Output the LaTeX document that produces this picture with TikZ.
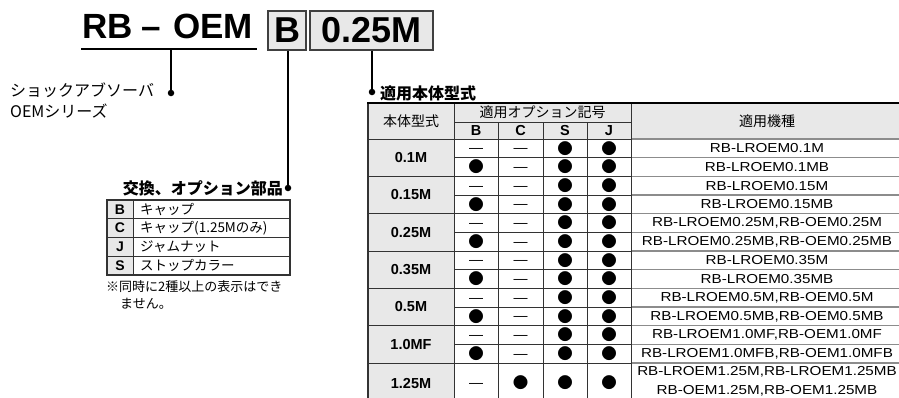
\documentclass[tikz,border=0pt]{standalone}
\usepackage{fontspec}
\setmainfont{Liberation Sans}
\newfontfamily\jp{Noto Sans CJK JP}
\newfontfamily\mdl[FakeStretch=1.17]{Liberation Sans}
\newcommand\MyGrp[4]{%
 \pgfmathsetmacro\ya{139+18.6667*(2*#1+0.5)}%
 \pgfmathsetmacro\yb{139+18.6667*(2*#1+1.5)}%
 \pgfmathsetmacro\yc{139+18.6667*(2*#1+1)}%
 \node[spec] (s#1) at (411,\yc) {#2};
 \node[dsh] (s#1ab) at (476,\ya+2.5) {—};
 \node[dsh] (s#1ac) at (520.5,\ya+2.5) {—};
 \node[sym] (s#1as) at (565,\ya) {●};
 \node[sym] (s#1aj) at (609,\ya) {●};
 \node[model] (s#1am) at (767,\ya) {#3};
 \node[sym] (s#1bb) at (476,\yb) {●};
 \node[dsh] (s#1bc) at (520.5,\yb+2.5) {—};
 \node[sym] (s#1bs) at (565,\yb) {●};
 \node[sym] (s#1bj) at (609,\yb) {●};
 \node[model] (s#1bm) at (767,\yb) {#4};
}
\begin{document}
\begin{tikzpicture}[x=1pt,y=-1pt,
  every node/.style={inner sep=0pt},
  sym/.style={font=\jp\fontsize{15.5}{15.5}\selectfont},
  dsh/.style={font=\fontsize{14}{14}\selectfont},
  spec/.style={font=\bfseries\fontsize{14.5}{14.5}\selectfont},
  model/.style={font=\mdl\fontsize{13}{13}\selectfont},
  hd/.style={font=\jp\fontsize{14}{14}\selectfont},
  hdb/.style={font=\bfseries\fontsize{14.5}{14.5}\selectfont},
  lbl/.style={font=\jp\fontsize{16}{16}\selectfont},
  lblb/.style={font=\jp\bfseries\fontsize{16}{16}\selectfont},
  lg/.style={font=\jp\fontsize{13.5}{13.5}\selectfont},
  lgb/.style={font=\bfseries\fontsize{14}{14}\selectfont},
  note/.style={font=\jp\fontsize{13}{13}\selectfont},
  rul/.style={draw=black!80, line width=1pt},
  grul/.style={draw=black!45, line width=1.1pt},
  toprul/.style={draw=black, line width=1.8pt},
  cellfill/.style={fill=black!9},
  codebox/.style={draw=black!75, line width=1.3pt, fill=black!9, minimum height=39pt, inner sep=0pt, font=\bfseries\fontsize{36}{36}\selectfont},
  conn/.style={draw=black, line width=1.5pt},
  dotc/.style={circle, fill=black, minimum size=6.5pt, inner sep=0pt}]
\fill[white] (0,0) rectangle (899,397);
\useasboundingbox (0,0) rectangle (899,397);
\clip (0,0) rectangle (899,397);

% ---- title ----
\node[anchor=base west, font=\bfseries\fontsize{35}{35}\selectfont] (rb) at (82,38) {RB\kern 9pt–\kern 12pt OEM};
\coordinate (ulw) at (81,49);
\coordinate (ule) at (257,49);
\coordinate (ulc) at (171,49);
\draw[line width=1.5pt] (ulw) -- (ule);
\node[codebox, minimum width=38pt] (bB) at (287,30.5) {B};
\node[codebox, minimum width=123pt] (b025) at (371.5,30.5) {0.25M};

% ---- dots and connectors ----
\node[dotc] (d1) at (171,93) {};
\node[dotc] (d2) at (288,188) {};
\node[dotc] (d3) at (372,92) {};
\draw[conn] (ulc) -- (d1.center);
\draw[conn] (bB.south -| d2) -- (d2.center);
\draw[conn] (b025.south -| d3) -- (d3.center);

\node[lbl, anchor=west] (shock) at (10,90) {ショックアブソーバ};
\node[lbl, anchor=west] (series) at (10,111) {OEMシリーズ};
\node[lblb, anchor=west] (tekiyo) at (380,93) {適用本体型式};
\node[lblb, anchor=east] (kokan) at (283,188) {交換、オプション部品};

% ---- legend table ----
\fill[cellfill] (107,200) rectangle (133,275);
\draw[rul, line width=1.3pt] (107,200) rectangle (290,275);
\draw[rul] (133,200) -- (133,275);
\foreach \yy in {218.75,237.5,256.25} \draw[rul] (107,\yy) -- (290,\yy);
\node[lgb] (lB) at (120,209.4) {B};
\node[lgb] (lC) at (120,228.1) {C};
\node[lgb] (lJ) at (120,246.9) {J};
\node[lgb] (lS) at (120,265.6) {S};
\node[lg, anchor=west] (tB) at (140,209.4) {キャップ};
\node[lg, anchor=west] (tC) at (140,228.1) {キャップ(1.25Mのみ)};
\node[lg, anchor=west] (tJ) at (140,246.9) {ジャムナット};
\node[lg, anchor=west] (tS) at (140,265.6) {ストップカラー};
\node[note, anchor=west] (n1) at (106,287) {※同時に2種以上の表示はでき};
\node[note, anchor=west] (n2) at (120,304) {ません。};

% ---- main table ----
\fill[cellfill] (368,103) rectangle (903,139);
\fill[cellfill] (368,139) rectangle (454,402);
% horizontal rules
\draw[rul] (368,139) -- (631,139);
\draw[grul] (631,139) -- (903,139);
\draw[rul] (454,122) -- (631,122);
\foreach \i in {1,3,5,7,9,11} {
  \pgfmathsetmacro\yy{139+18.6667*\i}
  \draw[rul] (454,\yy) -- (631,\yy);
  \draw[grul] (631,\yy) -- (903,\yy);
}
\foreach \i in {2,4,6,8,10,12} {
  \pgfmathsetmacro\yy{139+18.6667*\i}
  \draw[rul] (368,\yy) -- (631,\yy);
  \draw[grul] (631,\yy) -- (903,\yy);
}
% vertical rules
\draw[rul] (454,103) -- (454,402);
\foreach \xx in {498,543,587} \draw[rul] (\xx,122) -- (\xx,402);
\draw[rul] (631,103) -- (631,402);
\draw[rul, line width=1.3pt] (368,103) -- (368,402);
\draw[toprul] (367.35,103) -- (903,103);

% header texts
\node[hd] (h1) at (411,121) {本体型式};
\node[hd] (h2) at (542.5,112.5) {適用オプション記号};
\node[hdb] (hB) at (476,131) {B};
\node[hdb] (hC) at (520.5,131) {C};
\node[hdb] (hS) at (565,131) {S};
\node[hdb] (hJ) at (609,131) {J};
\node[hd] (h3) at (767,121) {適用機種};

\MyGrp{0}{0.1M}{RB-LROEM0.1M}{RB-LROEM0.1MB}
\MyGrp{1}{0.15M}{RB-LROEM0.15M}{RB-LROEM0.15MB}
\MyGrp{2}{0.25M}{RB-LROEM0.25M,RB-OEM0.25M}{RB-LROEM0.25MB,RB-OEM0.25MB}
\MyGrp{3}{0.35M}{RB-LROEM0.35M}{RB-LROEM0.35MB}
\MyGrp{4}{0.5M}{RB-LROEM0.5M,RB-OEM0.5M}{RB-LROEM0.5MB,RB-OEM0.5MB}
\MyGrp{5}{1.0MF}{RB-LROEM1.0MF,RB-OEM1.0MF}{RB-LROEM1.0MFB,RB-OEM1.0MFB}

\node[spec] (s6) at (411,383) {1.25M};
\node[dsh] (s6b) at (476,385) {—};
\node[sym] (s6c) at (520.5,383) {●};
\node[sym] (s6s) at (565,383) {●};
\node[sym] (s6j) at (609,383) {●};
\node[model] (s6m1) at (767,372) {RB-LROEM1.25M,RB-LROEM1.25MB};
\node[model] (s6m2) at (767,391) {RB-OEM1.25M,RB-OEM1.25MB};
\end{tikzpicture}
\end{document}
